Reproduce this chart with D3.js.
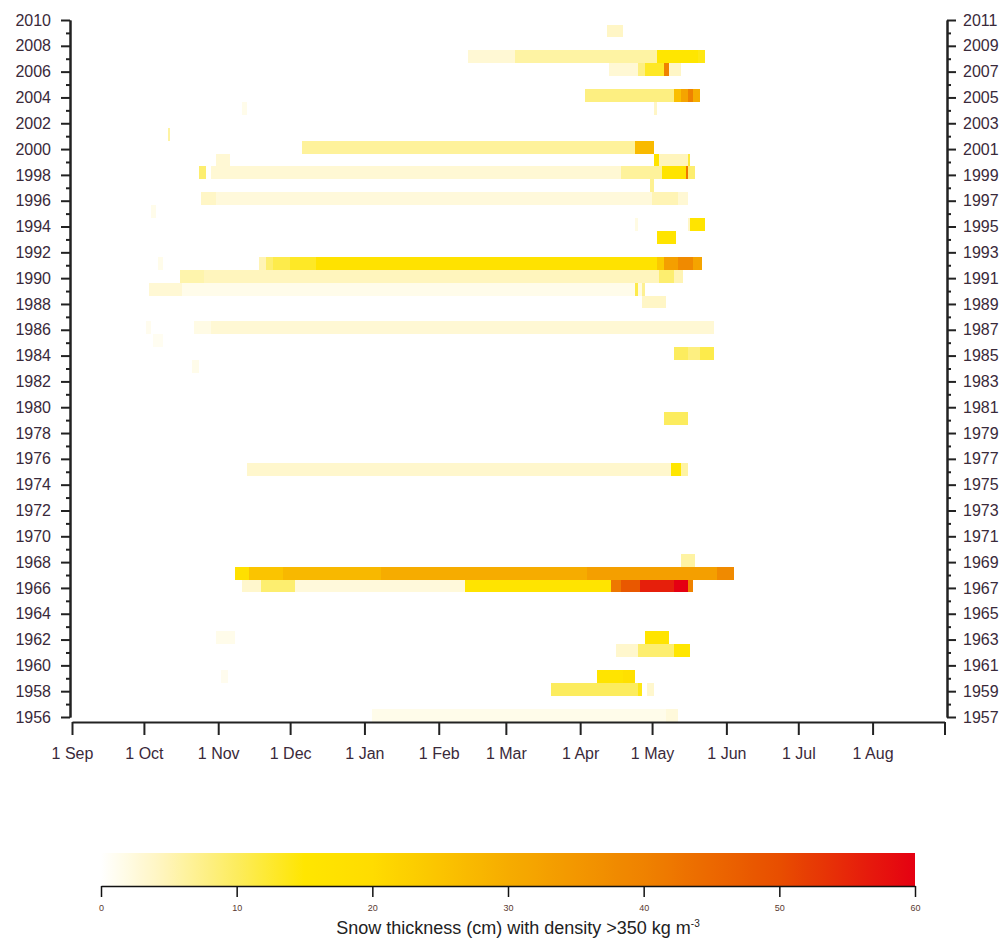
<!DOCTYPE html>
<html>
<head>
<meta charset="utf-8">
<script src="https://cdn.jsdelivr.net/npm/d3@7"></script>
<style>
  html, body { margin: 0; padding: 0; background: #ffffff; }
  svg { display: block; }
  text { font-family: "Liberation Sans", Arial, sans-serif; }
</style>
</head>
<body>
<svg id="chart" width="1003" height="940"></svg>
<script>
// Winter seasons (labelled by the autumn year) and their snow layers:
// [season, first day, end day, thickness in cm of snow denser than 350 kg m-3]
const layers = [
  [2009, "Apr 12", "Apr 19", 4],
  [2007, "Feb 13", "Mar 5", 3], [2007, "Mar 5", "May 3", 6], [2007, "May 3", "May 20", 15], [2007, "May 20", "May 23", 14],
  [2006, "Apr 13", "Apr 25", 3], [2006, "Apr 25", "Apr 28", 8], [2006, "Apr 28", "May 6", 13], [2006, "May 6", "May 8", 40], [2006, "May 8", "May 13", 4],
  [2004, "Apr 3", "May 10", 8], [2004, "May 10", "May 13", 26], [2004, "May 13", "May 16", 32], [2004, "May 16", "May 18", 40], [2004, "May 18", "May 21", 30],
  [2003, "Nov 11", "Nov 13", 1.5], [2003, "May 2", "May 3", 4],
  [2001, "Oct 11", "Oct 12", 6],
  [2000, "Dec 6", "Apr 24", 6.5], [2000, "Apr 24", "May 2", 27],
  [1999, "Oct 31", "Nov 6", 3], [1999, "May 2", "May 4", 16], [1999, "May 4", "May 16", 4.5], [1999, "May 16", "May 17", 12],
  [1998, "Oct 24", "Oct 27", 9], [1998, "Oct 29", "Apr 18", 3], [1998, "Apr 18", "May 5", 6.5], [1998, "May 5", "May 15", 16], [1998, "May 15", "May 16", 42], [1998, "May 16", "May 19", 9],
  [1997, "Apr 30", "May 2", 7],
  [1996, "Oct 25", "Oct 31", 4], [1996, "Oct 31", "May 1", 2.5], [1996, "May 1", "May 12", 5], [1996, "May 12", "May 16", 3],
  [1995, "Oct 4", "Oct 6", 1.5],
  [1994, "Apr 24", "Apr 25", 2], [1994, "May 16", "May 17", 4], [1994, "May 17", "May 23", 16],
  [1993, "May 3", "May 11", 16],
  [1991, "Oct 7", "Oct 9", 1.5], [1991, "Nov 18", "Nov 21", 5], [1991, "Nov 21", "Nov 24", 9], [1991, "Nov 24", "Dec 1", 11], [1991, "Dec 1", "Dec 12", 13],
  [1991, "Dec 12", "May 3", 17], [1991, "May 3", "May 6", 24], [1991, "May 6", "May 12", 33], [1991, "May 12", "May 18", 38], [1991, "May 18", "May 22", 32],
  [1990, "Oct 16", "Oct 26", 5.5], [1990, "Oct 26", "May 4", 4.5], [1990, "May 4", "May 10", 9], [1990, "May 10", "May 14", 5],
  [1989, "Oct 3", "Oct 17", 3], [1989, "Oct 17", "Apr 24", 1.5], [1989, "Apr 24", "Apr 25", 11], [1989, "Apr 25", "Apr 27", 2], [1989, "Apr 27", "Apr 28", 7],
  [1988, "Apr 27", "May 7", 4],
  [1986, "Oct 2", "Oct 4", 1.2], [1986, "Oct 22", "Oct 29", 1.8], [1986, "Oct 29", "May 27", 3],
  [1985, "Oct 5", "Oct 9", 1],
  [1984, "May 10", "May 16", 10], [1984, "May 16", "May 21", 8], [1984, "May 21", "May 27", 11],
  [1983, "Oct 21", "Oct 24", 1.5],
  [1979, "May 6", "May 16", 10],
  [1975, "Nov 13", "May 9", 3.5], [1975, "May 9", "May 13", 15], [1975, "May 13", "May 16", 6],
  [1968, "May 13", "May 19", 6],
  [1967, "Nov 8", "Nov 14", 18], [1967, "Nov 14", "Nov 28", 25], [1967, "Nov 28", "Jan 8", 27.5], [1967, "Jan 8", "Apr 4", 30], [1967, "Apr 4", "May 28", 33], [1967, "May 28", "Jun 4", 38],
  [1966, "Nov 11", "Nov 19", 3.5], [1966, "Nov 19", "Dec 3", 9], [1966, "Dec 3", "Feb 12", 2.5], [1966, "Feb 12", "Apr 14", 16], [1966, "Apr 14", "Apr 18", 42],
  [1966, "Apr 18", "Apr 26", 48], [1966, "Apr 26", "May 10", 56], [1966, "May 10", "May 16", 60], [1966, "May 16", "May 18", 40],
  [1962, "Oct 31", "Nov 8", 1.5], [1962, "Apr 28", "May 8", 16],
  [1961, "Apr 16", "Apr 25", 3.5], [1961, "Apr 25", "May 10", 9], [1961, "May 10", "May 17", 15],
  [1959, "Nov 2", "Nov 5", 1.2], [1959, "Apr 8", "Apr 19", 16], [1959, "Apr 19", "Apr 24", 18],
  [1958, "Mar 20", "Apr 25", 10], [1958, "Apr 25", "Apr 27", 14], [1958, "Apr 29", "May 2", 3.5],
  [1956, "Jan 4", "May 7", 1.5], [1956, "May 7", "May 12", 2.5]
];

// Month starts along the season axis (1 Sep .. 1 Aug)
const monthNames = ["Sep", "Oct", "Nov", "Dec", "Jan", "Feb", "Mar", "Apr", "May", "Jun", "Jul", "Aug"];
const monthDays = [30, 31, 30, 31, 31, 28, 31, 30, 31, 30, 31, 31];

// Year ticks: left side labels the autumn year, right side the following spring
const leftYears = d3.range(1956, 2011, 2);
const rightYears = d3.range(1957, 2012, 2);

// Colour key
const legendTicks = [0, 10, 20, 30, 40, 50, 60];
const legendStops = [0, 4, 10, 15, 20, 30, 40, 50, 60];
const legendColors = ["#ffffff", "#fff6c6", "#fcec5e", "#ffe600", "#ffdc00", "#f6ac00", "#ef8200", "#e84e00", "#e50012"];

const legendTitle = "Snow thickness (cm) with density >350 kg m";
const legendTitleSup = "-3";

// ---------- helpers ----------
const monthStart = {};
monthNames.reduce((acc, m, i) => { monthStart[m] = acc; return acc + monthDays[i]; }, 0);
const seasonLength = d3.sum(monthDays);
function dayOfSeason(s) {
  const [m, d] = s.split(" ");
  return monthStart[m] + (+d) - 1;
}

const svg = d3.select("#chart");
const textColor = "#3a2a3a";
const fontFamily = "'Liberation Sans', Arial, sans-serif";

// ---------- scales ----------
const x = d3.scaleLinear().domain([0, seasonLength - 1]).range([72, 944.5]);
const y = d3.scaleLinear().domain([1956, 2010]).range([717, 20]);
const yRight = d3.scaleLinear().domain([1957, 2011]).range([717, 20]);
const color = d3.scaleLinear().domain(legendStops).range(legendColors).interpolate(d3.interpolateRgb).clamp(true);

// ---------- layers ----------
svg.append("g")
  .selectAll("rect")
  .data(layers)
  .join("rect")
  .attr("x", d => x(dayOfSeason(d[1])))
  .attr("width", d => Math.max(1, x(dayOfSeason(d[2])) - x(dayOfSeason(d[1]))))
  .attr("y", d => y(d[0] + 0.65))
  .attr("height", d => y(d[0] - 0.35) - y(d[0] + 0.65))
  .attr("fill", d => color(d[3]))
  .attr("shape-rendering", "crispEdges");

// ---------- axes ----------
function styleAxis(g) {
  g.selectAll("path.domain").attr("stroke", "#222").attr("stroke-width", 2);
  g.selectAll(".tick line").attr("stroke", "#222").attr("stroke-width", 2);
  g.selectAll("text")
    .attr("fill", textColor)
    .style("font-size", "16px")
    .style("font-family", fontFamily);
}

// left: minor yearly ticks then labelled ticks every two years
svg.append("g")
  .attr("transform", "translate(70,0)")
  .call(d3.axisLeft(y).tickValues(d3.range(1957, 2010, 2)).tickSize(4).tickSizeOuter(0).tickFormat(""))
  .call(styleAxis);
svg.append("g")
  .attr("transform", "translate(70,0)")
  .call(d3.axisLeft(y).tickValues(leftYears).tickSize(9).tickSizeOuter(0).tickPadding(10).tickFormat(d3.format("d")))
  .call(styleAxis);

// right
svg.append("g")
  .attr("transform", "translate(947,0)")
  .call(d3.axisRight(yRight).tickValues(d3.range(1958, 2011, 2)).tickSize(4).tickSizeOuter(0).tickFormat(""))
  .call(styleAxis);
svg.append("g")
  .attr("transform", "translate(947,0)")
  .call(d3.axisRight(yRight).tickValues(rightYears).tickSize(9).tickSizeOuter(0).tickPadding(7).tickFormat(d3.format("d")))
  .call(styleAxis);

// bottom: month starts
const monthTickDays = monthNames.map(m => monthStart[m]).concat([seasonLength - 1]);
svg.append("g")
  .attr("transform", "translate(0,722)")
  .call(d3.axisBottom(x).tickValues(monthTickDays).tickSize(13).tickSizeOuter(0).tickPadding(13)
    .tickFormat((d, i) => i < monthNames.length ? "1 " + monthNames[i] : ""))
  .call(styleAxis);

// ---------- colour key ----------
const key = { x0: 101, x1: 915, top: 853, bottom: 886 };
const kx = d3.scaleLinear().domain([0, 60]).range([key.x0, key.x1]);

const defs = svg.append("defs");
const grad = defs.append("linearGradient").attr("id", "snowKey").attr("x1", "0%").attr("x2", "100%");
d3.range(0, 60.01, 1).forEach(v => {
  grad.append("stop").attr("offset", (v / 60 * 100) + "%").attr("stop-color", color(v));
});
svg.append("rect")
  .attr("x", key.x0).attr("y", key.top)
  .attr("width", key.x1 - key.x0).attr("height", key.bottom - key.top)
  .attr("fill", "url(#snowKey)");

const keyAxis = svg.append("g")
  .attr("transform", `translate(0,${key.bottom})`)
  .call(d3.axisBottom(kx).tickValues(legendTicks).tickSize(11).tickSizeOuter(0).tickPadding(8).tickFormat(d3.format("d")));
keyAxis.selectAll("path.domain").attr("stroke", "#111").attr("stroke-width", 1.5);
keyAxis.selectAll(".tick line").attr("stroke", "#111").attr("stroke-width", 1.5);
keyAxis.selectAll("text").attr("fill", "#5a3a30").style("font-size", "9px")
  .style("font-family", fontFamily);

const title = svg.append("text")
  .attr("x", 518).attr("y", 934)
  .attr("text-anchor", "middle")
  .attr("fill", "#222")
  .style("font-size", "18px");
title.append("tspan").text(legendTitle);
title.append("tspan").attr("dy", -7).style("font-size", "10px").text(legendTitleSup);
</script>
</body>
</html>
